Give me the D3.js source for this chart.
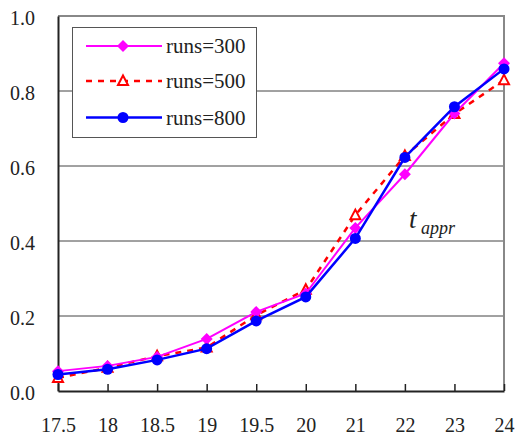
<!DOCTYPE html>
<html>
<head>
<meta charset="utf-8">
<script src="https://cdn.jsdelivr.net/npm/d3@7"></script>
<style>
  html, body { margin: 0; padding: 0; background: #fff; }
  svg { display: block; }
</style>
</head>
<body>
<svg id="chart" width="517" height="436"></svg>
<script>
// Temperature steps along the x axis (evenly spaced categories)
const categories = ["17.5", "18", "18.5", "19", "19.5", "20", "21", "22", "23", "24"];
const runs300 = [0.053, 0.067, 0.091, 0.139, 0.211, 0.260, 0.435, 0.578, 0.740, 0.874];
const runs500 = [0.035, 0.062, 0.093, 0.116, 0.202, 0.270, 0.469, 0.627, 0.739, 0.829];
const runs800 = [0.044, 0.058, 0.083, 0.113, 0.187, 0.251, 0.407, 0.623, 0.758, 0.859];
const yTicks = [0, 0.2, 0.4, 0.6, 0.8, 1.0];
const seriesNames = ["runs=300", "runs=500", "runs=800"];

const FONT = '"Liberation Serif"';

const series = [
  { name: seriesNames[0], values: runs300, color: "#ff00ff", dash: null, marker: "diamond", width: 2 },
  { name: seriesNames[1], values: runs500, color: "#ff0000", dash: "6,6", marker: "triangle", width: 2.5 },
  { name: seriesNames[2], values: runs800, color: "#0000ff", dash: null, marker: "circle", width: 2.5 }
];

const svg = d3.select("#chart");
const plotL = 58, plotR = 504, plotT = 16, plotB = 391;

const x = d3.scalePoint().domain(categories).range([plotL, plotR]);
const y = d3.scaleLinear().domain([0, 1]).range([plotB, plotT]);

// Horizontal grid lines
svg.append("g")
  .selectAll("line")
  .data(yTicks.filter(t => t > 0 && t < 1))
  .join("line")
  .attr("x1", plotL).attr("x2", plotR)
  .attr("y1", d => y(d)).attr("y2", d => y(d))
  .attr("stroke", "#444").attr("stroke-width", 1);

// Top and right frame
svg.append("path")
  .attr("d", `M${plotL},${plotT}H${plotR}V${plotB}`)
  .attr("fill", "none").attr("stroke", "#888").attr("stroke-width", 2);

// Y axis
const yAxis = svg.append("g").attr("transform", `translate(${plotL},0)`)
  .call(d3.axisLeft(y).tickValues(yTicks).tickFormat(d3.format(".1f")).tickSize(0).tickPadding(23));
yAxis.select(".domain").attr("stroke", "#222").attr("stroke-width", 2);
yAxis.selectAll("text").style("font-family", FONT).style("font-size", "20px")
  .attr("dy", "0.4em").attr("fill", "#222");

// X axis with inward ticks
const xAxis = svg.append("g").attr("transform", `translate(0,${plotB})`)
  .call(d3.axisBottom(x).tickSizeInner(-7).tickSizeOuter(0).tickPadding(0));
xAxis.select(".domain").attr("stroke", "#222").attr("stroke-width", 2);
xAxis.selectAll(".tick line").attr("stroke", "#222").attr("stroke-width", 1.5);
xAxis.selectAll("text").style("font-family", FONT).style("font-size", "20px")
  .attr("y", 41).attr("dy", 0).attr("fill", "#222");

// Marker drawing helper
function drawMarker(sel, s) {
  if (s.marker === "circle") {
    sel.append("circle").attr("r", 5.5).attr("fill", s.color);
  } else if (s.marker === "diamond") {
    sel.append("path").attr("d", "M0,-6L6,0L0,6L-6,0Z").attr("fill", s.color);
  } else {
    sel.append("path").attr("d", "M0,-5.5L5,4L-5,4Z")
      .attr("fill", "#fff").attr("stroke", s.color).attr("stroke-width", 2);
  }
}

const line = d3.line().x((d, i) => x(categories[i])).y(d => y(d));

// Series lines and markers (500 first, then 300, then 800 on top)
const order = [series[1], series[0], series[2]];
order.forEach(s => {
  svg.append("path")
    .datum(s.values)
    .attr("d", line)
    .attr("fill", "none")
    .attr("stroke", s.color)
    .attr("stroke-width", s.width)
    .attr("stroke-dasharray", s.dash);
  s.values.forEach((v, i) => {
    const g = svg.append("g").attr("transform", `translate(${x(categories[i])},${y(v)})`);
    drawMarker(g, s);
  });
});

// Annotation
const ann = svg.append("text").attr("x", 409).attr("y", 228)
  .style("font-family", FONT).style("font-style", "italic").attr("fill", "#222");
ann.append("tspan").text("t").style("font-size", "27px");
ann.append("tspan").text(" appr").style("font-size", "18px").attr("dy", 6);

// Legend
const lg = svg.append("g");
lg.append("rect").attr("x", 72.5).attr("y", 27.5).attr("width", 184).attr("height", 110)
  .attr("fill", "#fff").attr("stroke", "#555").attr("stroke-width", 1);
const rowsY = [46, 81, 117.5];
series.forEach((s, i) => {
  const gy = rowsY[i];
  lg.append("line").attr("x1", 86).attr("x2", 162).attr("y1", gy).attr("y2", gy)
    .attr("stroke", s.color).attr("stroke-width", s.width).attr("stroke-dasharray", s.dash);
  drawMarker(lg.append("g").attr("transform", `translate(123,${gy})`), s);
  lg.append("text").attr("x", 166).attr("y", gy + 7).text(s.name)
    .style("font-family", FONT).style("font-size", "21px").attr("fill", "#222");
});
</script>
</body>
</html>
